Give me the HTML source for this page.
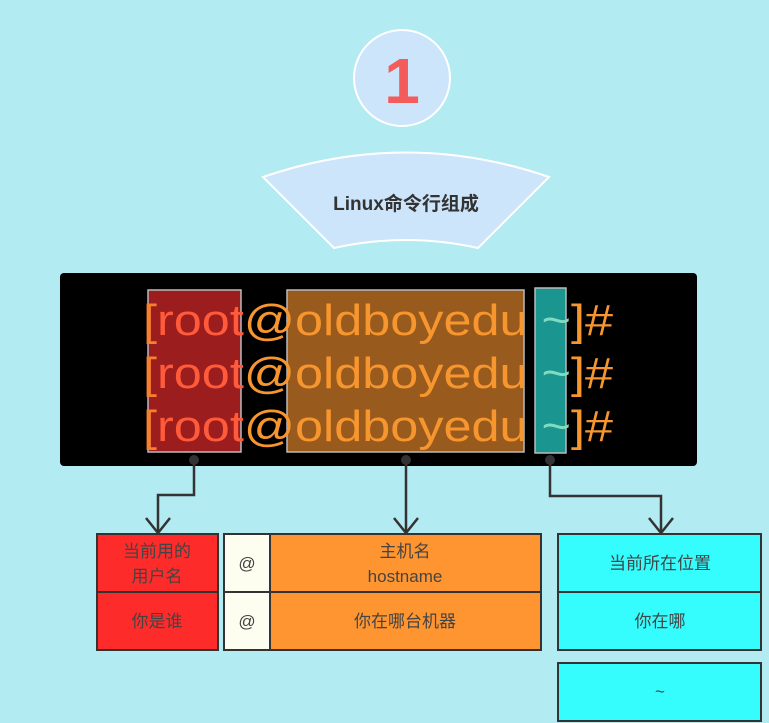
<!DOCTYPE html>
<html><head><meta charset="utf-8"><style>
html,body{margin:0;padding:0;background:#b2ebf1;}
svg{display:block;}
.t{font-family:"Liberation Sans","Noto Sans CJK SC",sans-serif;}
</style></head><body>
<svg width="769" height="723" viewBox="0 0 769 723" xmlns="http://www.w3.org/2000/svg">
<rect width="769" height="723" fill="#b2ebf1"/>
<circle cx="402" cy="78" r="48" fill="#cce5fb" stroke="#ffffff" stroke-width="2"/>
<text x="402" y="103" text-anchor="middle" class="t" font-size="64" font-weight="bold" fill="#f45b5b">1</text>
<path d="M263,177 Q406,128 549,177 L478,248 Q406,232 334,248 Z" fill="#cce5fb" stroke="#ffffff" stroke-width="2"/>
<text x="406" y="210" text-anchor="middle" class="t" font-size="19" font-weight="bold" fill="#333">Linux命令行组成</text>
<rect x="60" y="273" width="637" height="193" rx="4" fill="#000"/>
<rect x="148" y="290" width="93" height="162" fill="#9b1d1d" stroke="#bbb" stroke-width="1.5"/>
<rect x="287" y="290" width="237" height="162" fill="#985a1d" stroke="#bbb" stroke-width="1.5"/>
<rect x="535" y="288" width="31" height="165" fill="#1a9590" stroke="#bbb" stroke-width="1.5"/>
<g class="t" font-size="44">
<text x="143" y="335" textLength="470" lengthAdjust="spacingAndGlyphs"><tspan fill="#f77f2e">[</tspan><tspan fill="#ff5a3a">root</tspan><tspan fill="#f7962e">@oldboyedu </tspan><tspan fill="#7fdcc0">~</tspan><tspan fill="#f7962e">]#</tspan></text>
<text x="143" y="388" textLength="470" lengthAdjust="spacingAndGlyphs"><tspan fill="#f77f2e">[</tspan><tspan fill="#ff5a3a">root</tspan><tspan fill="#f7962e">@oldboyedu </tspan><tspan fill="#7fdcc0">~</tspan><tspan fill="#f7962e">]#</tspan></text>
<text x="143" y="441" textLength="470" lengthAdjust="spacingAndGlyphs"><tspan fill="#f77f2e">[</tspan><tspan fill="#ff5a3a">root</tspan><tspan fill="#f7962e">@oldboyedu </tspan><tspan fill="#7fdcc0">~</tspan><tspan fill="#f7962e">]#</tspan></text>
</g>
<g stroke="#333" stroke-width="2.5" fill="none">
<path d="M194,460 V495 H158 V533"/>
<path d="M406,460 V533"/>
<path d="M550,460 V496 H661 V533"/>
<path d="M146,518 L158,533 L170,518"/>
<path d="M394,518 L406,533 L418,518"/>
<path d="M649,518 L661,533 L673,518"/>
</g>
<circle cx="194" cy="460" r="5" fill="#333"/>
<circle cx="406" cy="460" r="5" fill="#333"/>
<circle cx="550" cy="460" r="5" fill="#333"/>
<g stroke="#333" stroke-width="2">
<rect x="97" y="534" width="121" height="58" fill="#fe2b2b"/>
<rect x="97" y="592" width="121" height="58" fill="#fe2b2b"/>
<rect x="224" y="534" width="46" height="58" fill="#fdfdf0"/>
<rect x="224" y="592" width="46" height="58" fill="#fdfdf0"/>
<rect x="270" y="534" width="271" height="58" fill="#fe9530"/>
<rect x="270" y="592" width="271" height="58" fill="#fe9530"/>
<rect x="558" y="534" width="203" height="58" fill="#35fcfd"/>
<rect x="558" y="592" width="203" height="58" fill="#35fcfd"/>
<rect x="558" y="663" width="203" height="58" fill="#35fcfd"/>
</g>
<g class="t" font-size="17" fill="#444" text-anchor="middle">
<text x="157" y="557">当前用的</text>
<text x="157" y="582">用户名</text>
<text x="157" y="627">你是谁</text>
<text x="247" y="569">@</text>
<text x="247" y="627">@</text>
<text x="405" y="557">主机名</text>
<text x="405" y="582">hostname</text>
<text x="405" y="627">你在哪台机器</text>
<text x="660" y="569">当前所在位置</text>
<text x="660" y="627">你在哪</text>
<text x="660" y="697">~</text>
</g>
</svg>
</body></html>
